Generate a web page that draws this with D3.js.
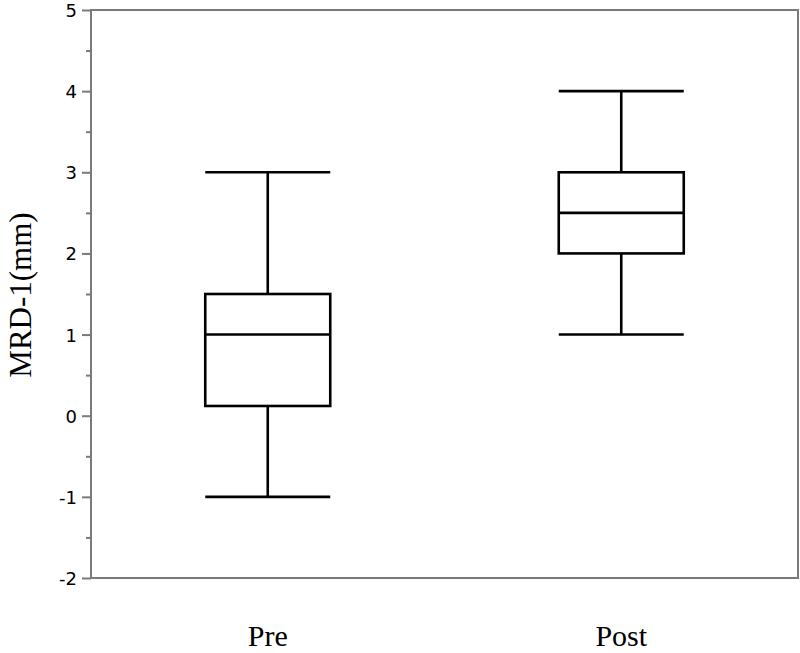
<!DOCTYPE html>
<html><head><meta charset="utf-8">
<script src="https://cdn.jsdelivr.net/npm/d3@7"></script>
<style>body{margin:0;background:#fff}</style>
</head><body><svg id="c" width="800" height="653"></svg>
<script>
const categories = ["Pre", "Post"];
const mins    = [-1, 1];
const q1s     = [0.12, 2];
const medians = [1, 2.5];
const q3s     = [1.5, 3];
const maxs    = [3, 4];
const yTicks  = [-2, -1, 0, 1, 2, 3, 4, 5];
const yMinor  = [-1.5, -0.5, 0.5, 1.5, 2.5, 3.5, 4.5];
const yTitle  = "MRD-1(mm)";

const svg = d3.select("#c");
const L = 91, R = 798, T = 10, B = 578;
const x = d3.scalePoint().domain(categories).range([L, R]).padding(0.5);
const y = d3.scaleLinear().domain([-2, 5]).range([B, T]);
const boxW = 125;

// frame
svg.append("rect").attr("x", L).attr("y", T).attr("width", R - L).attr("height", B - T)
  .attr("fill", "none").attr("stroke", "#7a7a7a").attr("stroke-width", 2);

// y axis
const ax = svg.append("g").attr("transform", `translate(${L},0)`)
  .call(d3.axisLeft(y).tickValues(yTicks).tickSize(9).tickPadding(5).tickFormat(d => String(d)));
ax.select(".domain").remove();
ax.selectAll(".tick line").attr("stroke", "#7a7a7a").attr("stroke-width", 2);
ax.selectAll(".tick text").attr("font-family", "DejaVu Sans, Verdana, sans-serif")
  .attr("font-size", 18).attr("fill", "#000").attr("dy", "0.36em");
const axm = svg.append("g").attr("transform", `translate(${L},0)`)
  .call(d3.axisLeft(y).tickValues(yMinor).tickSize(5).tickFormat(""));
axm.select(".domain").remove();
axm.selectAll(".tick line").attr("stroke", "#7a7a7a").attr("stroke-width", 2);

// boxes
const data = categories.map((c, i) => ({c, min: mins[i], q1: q1s[i], med: medians[i], q3: q3s[i], max: maxs[i]}));
const g = svg.selectAll(".box").data(data).join("g").attr("class", "box")
  .attr("stroke", "#000").attr("stroke-width", 2.6).attr("fill", "none");
g.append("line").attr("x1", d => x(d.c)).attr("x2", d => x(d.c)).attr("y1", d => y(d.max)).attr("y2", d => y(d.q3));
g.append("line").attr("x1", d => x(d.c)).attr("x2", d => x(d.c)).attr("y1", d => y(d.q1)).attr("y2", d => y(d.min));
g.append("line").attr("x1", d => x(d.c) - boxW/2).attr("x2", d => x(d.c) + boxW/2).attr("y1", d => y(d.max)).attr("y2", d => y(d.max));
g.append("line").attr("x1", d => x(d.c) - boxW/2).attr("x2", d => x(d.c) + boxW/2).attr("y1", d => y(d.min)).attr("y2", d => y(d.min));
g.append("rect").attr("x", d => x(d.c) - boxW/2).attr("width", boxW)
  .attr("y", d => y(d.q3)).attr("height", d => y(d.q1) - y(d.q3));
g.append("line").attr("x1", d => x(d.c) - boxW/2).attr("x2", d => x(d.c) + boxW/2).attr("y1", d => y(d.med)).attr("y2", d => y(d.med));

// category labels
svg.selectAll(".cat").data(categories).join("text").attr("class", "cat")
  .attr("x", d => x(d)).attr("y", 646).attr("text-anchor", "middle")
  .attr("font-family", "Liberation Serif, Times New Roman, serif").attr("font-size", 30).attr("fill", "#000")
  .text(d => d);

// y title
svg.append("text").attr("transform", `translate(31,295) rotate(-90)`).attr("text-anchor", "middle")
  .attr("font-family", "Liberation Serif, Times New Roman, serif").attr("font-size", 31).attr("fill", "#000")
  .text(yTitle);
</script></body></html>
